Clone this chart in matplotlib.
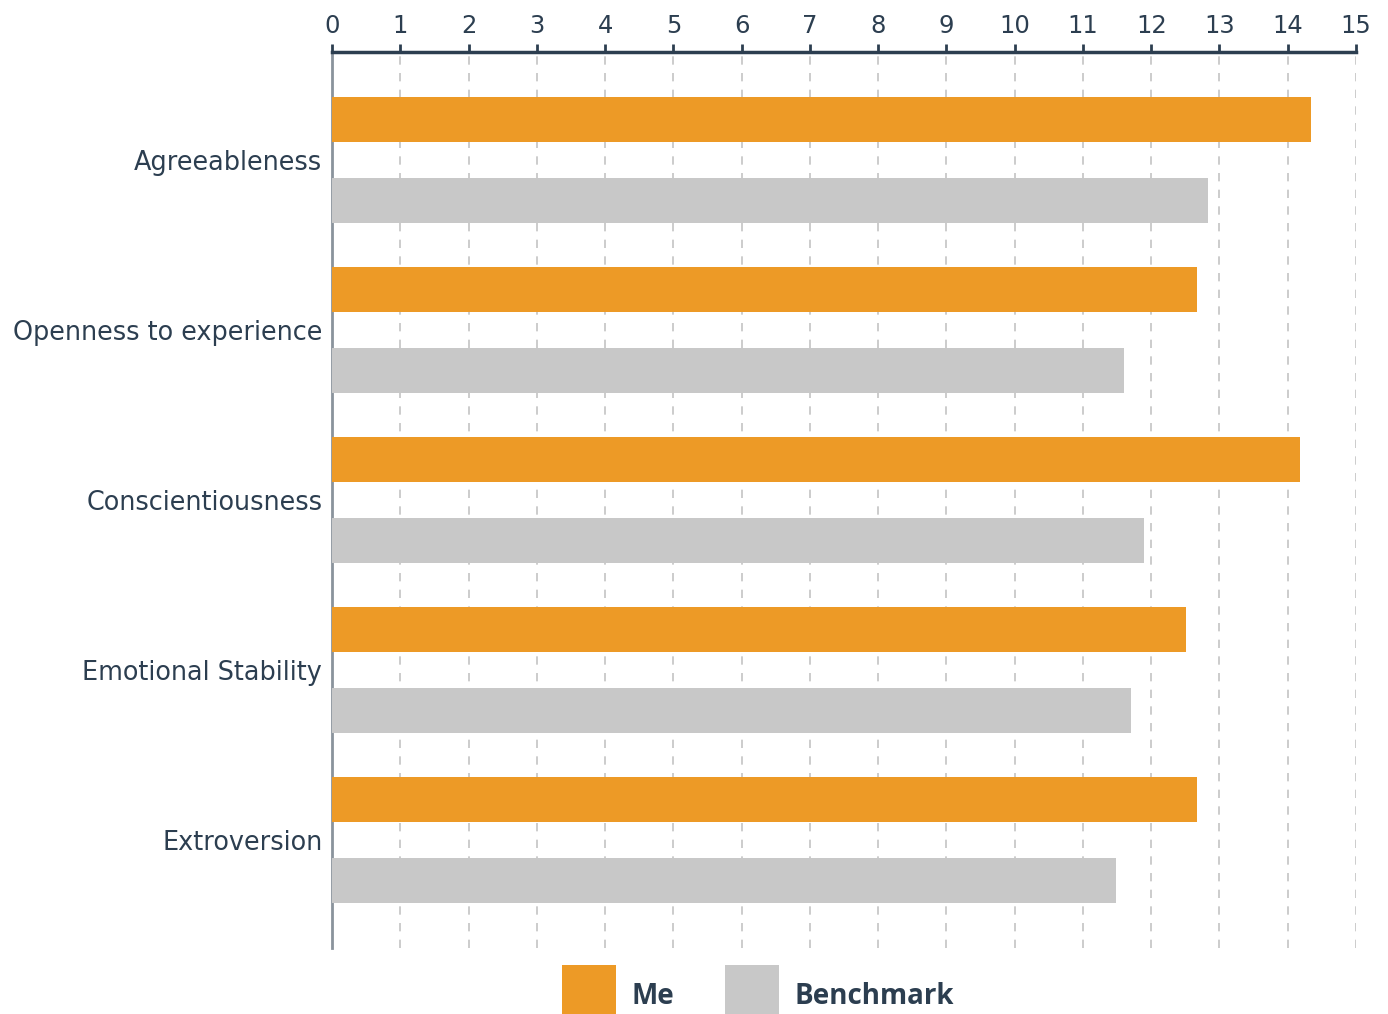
import matplotlib
matplotlib.use("Agg")
import matplotlib.pyplot as plt
import numpy as np

categories = ["Agreeableness", "Openness to experience", "Conscientiousness",
              "Emotional Stability", "Extroversion"]
me_values = [14.34, 12.67, 14.18, 12.51, 12.67]
benchmark_values = [12.83, 11.60, 11.89, 11.70, 11.48]
x_ticks = list(range(0, 16))

ORANGE = "#ed9a26"
GREY = "#c8c8c8"
TEXT = "#2c3e50"

plt.rcParams["font.family"] = ["DejaVu Sans"]

fig = plt.figure(figsize=(13.88, 10.14), dpi=100)
ax = fig.add_axes([332 / 1388, 1 - 948 / 1014, 1024 / 1388, 896 / 1014])

y = np.arange(len(categories))
bar_h = 0.265
off = 0.238
b_me = ax.barh(y - off, me_values, height=bar_h, color=ORANGE, label="Me", zorder=3)
b_bm = ax.barh(y + off, benchmark_values, height=bar_h, color=GREY, label="Benchmark", zorder=3)

ax.set_xlim(0, 15)
ax.set_ylim(len(categories) - 1 + 0.635, -0.635)
ax.set_xticks(x_ticks)
ax.set_yticks(y)
ax.set_yticklabels(categories, fontsize=18.4, color=TEXT)

ax.xaxis.tick_top()
ax.tick_params(axis="x", direction="out", length=6, width=2, color=TEXT,
               labelsize=17.5, labelcolor=TEXT, pad=4)
ax.tick_params(axis="y", length=0, pad=7)

ax.grid(axis="x", color="#c4c4c4", linestyle=(0, (5, 5)), linewidth=1.2, zorder=0)
ax.set_axisbelow(True)

for side in ("right", "bottom"):
    ax.spines[side].set_visible(False)
ax.spines["top"].set_color(TEXT)
ax.spines["top"].set_linewidth(2.5)
ax.spines["left"].set_color("#8a939c")
ax.spines["left"].set_linewidth(2)

leg = fig.legend(handles=[b_me, b_bm], loc="upper left",
                 bbox_to_anchor=(562 / 1388, 1 - 965 / 1014),
                 ncol=2, frameon=False, handlelength=1.94, handleheight=3.05,
                 handletextpad=0.58, columnspacing=1.8, borderpad=0,
                 borderaxespad=0,
                 prop={"family": "Open Sans", "size": 20, "weight": "bold"})
for t in leg.get_texts():
    t.set_color(TEXT)

fig.savefig("out.png", dpi=100, facecolor="white")
